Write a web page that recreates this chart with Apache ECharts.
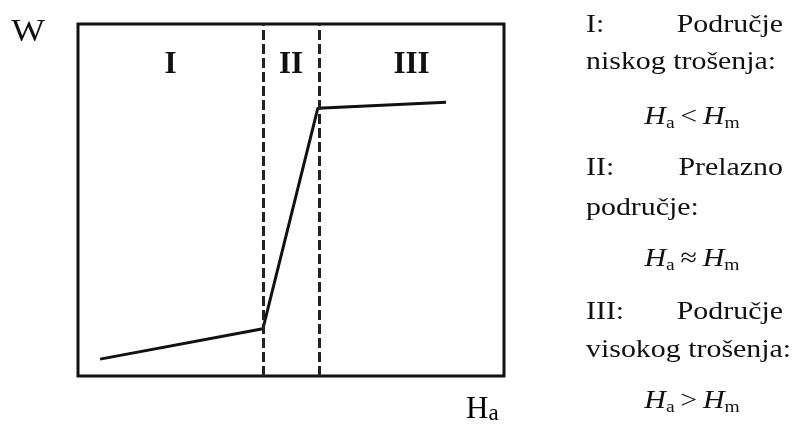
<!DOCTYPE html>
<html>
<head>
<meta charset="utf-8">
<script src="https://cdn.jsdelivr.net/npm/echarts@6/dist/echarts.min.js"></script>
<style>
  html, body { margin: 0; padding: 0; background: #fff; }
  #main { width: 797px; height: 426px; }
</style>
</head>
<body>
<div id="main"></div>
<script>
// NOTE - data (abstract units, 0..100 on both axes)

const wearX = [5.2, 43.4, 56.3, 86.4];
const wearY = [4.8, 13.4, 76.1, 77.8];
const zoneBounds = [0, 43.4, 56.6, 100];
const zoneNames = ['I', 'II', 'III'];

const SERIF = '"Liberation Serif", "DejaVu Serif", serif';
const STRETCH = 1.15; // the scanned text is a bit wider than plain Times

// NOTE - eCharts Init

var myChart = echarts.init(document.getElementById('main'));

var mathRich = {
  h: { fontFamily: SERIF, fontStyle: 'italic', fontSize: 26, color: '#111' },
  s: { fontFamily: SERIF, fontSize: 17, color: '#111', verticalAlign: 'bottom', padding: [13, 0, 0, 0] },
  o: { fontFamily: SERIF, fontSize: 26, color: '#111', padding: [0, 5, 0, 5] }
};

function mathText(op, y) {
  return {
    type: 'text', x: 692, y: y, scaleX: STRETCH,
    style: {
      text: '{h|H}{s|a}{o|' + op + '}{h|H}{s|m}',
      rich: mathRich, fill: '#111', align: 'center', verticalAlign: 'middle'
    }
  };
}

function plainText(t, x, y, align) {
  return {
    type: 'text', x: x, y: y, scaleX: STRETCH,
    style: {
      text: t, fill: '#111', font: '26px ' + SERIF,
      align: align || 'left', verticalAlign: 'middle'
    }
  };
}

var areas = zoneNames.map(function (n, i) {
  return [{ xAxis: zoneBounds[i], name: n }, { xAxis: zoneBounds[i + 1] }];
});

var option = {
  animation: false,
  grid: {
    left: 78, right: 293, top: 24, bottom: 50,
    show: true, borderColor: '#111', borderWidth: 3
  },
  xAxis: {
    type: 'value', min: 0, max: 100,
    axisLine: { show: false }, axisTick: { show: false },
    axisLabel: { show: false }, splitLine: { show: false }
  },
  yAxis: {
    type: 'value', min: 0, max: 100,
    axisLine: { show: false }, axisTick: { show: false },
    axisLabel: { show: false }, splitLine: { show: false }
  },
  series: [
    {
      type: 'line',
      data: wearX.map(function (x, i) { return [x, wearY[i]]; }),
      symbol: 'none',
      lineStyle: { color: '#111', width: 3 },
      markLine: {
        silent: true, symbol: 'none',
        label: { show: false },
        lineStyle: { color: '#222', width: 3, type: [10, 4] },
        data: [{ xAxis: zoneBounds[1] }, { xAxis: zoneBounds[2] }]
      },
      markArea: {
        silent: true,
        itemStyle: { color: 'rgba(0,0,0,0)' },
        label: {
          show: true, position: 'insideTop', distance: 25,
          fontFamily: SERIF, fontWeight: 'bold', fontSize: 31, color: '#111'
        },
        data: areas
      }
    }
  ],
  graphic: [
    { type: 'text', x: 28, y: 33, scaleX: STRETCH,
      style: { text: 'W', font: '31px ' + SERIF, fill: '#111', align: 'center', verticalAlign: 'middle' } },
    { type: 'text', left: 466, top: 394,
      style: {
        text: '{b|H}{a|a}',
        rich: {
          b: { fontFamily: SERIF, fontSize: 31, color: '#111' },
          a: { fontFamily: SERIF, fontSize: 23, color: '#111', verticalAlign: 'bottom' }
        }
      } },
    plainText('I:', 586, 25),
    plainText('Područje', 783, 25, 'right'),
    plainText('niskog trošenja:', 586, 62),
    mathText('<', 117),
    plainText('II:', 586, 168),
    plainText('Prelazno', 783, 168, 'right'),
    plainText('područje:', 586, 208),
    mathText('≈', 259),
    plainText('III:', 586, 312),
    plainText('Područje', 783, 312, 'right'),
    plainText('visokog trošenja:', 586, 350),
    mathText('>', 401)
  ]
};

myChart.setOption(option);
</script>
</body>
</html>
